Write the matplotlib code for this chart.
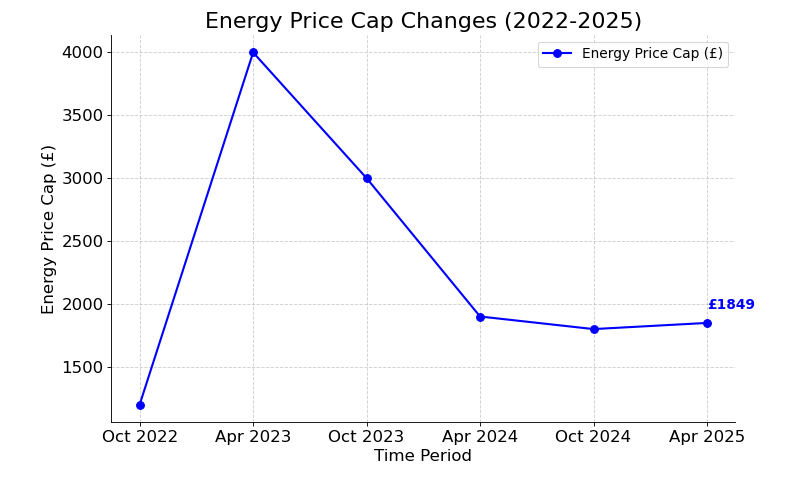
import matplotlib.pyplot as plt

periods = ['Oct 2022', 'Apr 2023', 'Oct 2023', 'Apr 2024', 'Oct 2024', 'Apr 2025']
price_cap = [1200, 4000, 3000, 1900, 1800, 1849]

fig = plt.figure(figsize=(10, 6), dpi=79.5)
ax = fig.add_subplot(111)
fig.subplots_adjust(left=0.14, right=0.925, top=0.927, bottom=0.115)

ax.plot(periods, price_cap, marker='o', markersize=7, color='blue', linewidth=1.9,
        label='Energy Price Cap (£)')

# label the latest value
ax.annotate(f'£{price_cap[-1]}', xy=(len(periods) - 1, price_cap[-1]),
            xytext=(0, 10), textcoords='offset points',
            color='blue', fontsize=12.5, fontweight='bold', ha='left', va='bottom')

ax.set_title('Energy Price Cap Changes (2022-2025)', fontsize=20)
ax.set_xlabel('Time Period', fontsize=15)
ax.set_ylabel('Energy Price Cap (£)', fontsize=15)
ax.tick_params(labelsize=15)
ax.grid(True, linestyle='--', alpha=0.6)
ax.spines['top'].set_visible(False)
ax.spines['right'].set_visible(False)
ax.legend(fontsize=12.5)

plt.savefig('out.png')
